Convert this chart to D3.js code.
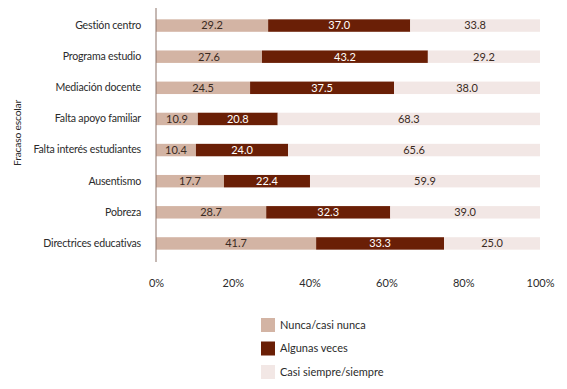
<!DOCTYPE html>
<html lang="es">
<head>
<meta charset="UTF-8">
<title>Fracaso escolar</title>
<script src="https://d3js.org/d3.v7.min.js"></script>
<style>
  body { margin: 0; background: #fff; }
  text { font-family: Lato, "Open Sans", sans-serif; }
</style>
</head>
<body>
<div id="chart"></div>
<script>
// datos
const categories = ["Gestión centro", "Programa estudio", "Mediación docente", "Falta apoyo familiar",
  "Falta interés estudiantes", "Ausentismo", "Pobreza", "Directrices educativas"];
const nunca = [29.2, 27.6, 24.5, 10.9, 10.4, 17.7, 28.7, 41.7];
const algunas = [37.0, 43.2, 37.5, 20.8, 24.0, 22.4, 32.3, 33.3];
const siempre = [33.8, 29.2, 38.0, 68.3, 65.6, 59.9, 39.0, 25.0];
const seriesNames = ["Nunca/casi nunca", "Algunas veces", "Casi siempre/siempre"];
const ticks = [0, 20, 40, 60, 80, 100];

const colors = ["#d3b4a4", "#6a1f06", "#f2e7e5"];
const textColors = ["#3a2a22", "#ffffff", "#3a2a22"];

const W = 567, H = 389;
const svg = d3.select("#chart").append("svg").attr("width", W).attr("height", H);

const x = d3.scaleLinear().domain([0, 100]).range([156, 540]);
const y = d3.scaleBand().domain(categories).range([10, 259]).paddingInner(0.6).paddingOuter(0.3);

const rows = categories.map((c, i) => ({cat: c, vals: [nunca[i], algunas[i], siempre[i]]}));

// barras apiladas
const g = svg.append("g");
rows.forEach(r => {
  let acc = 0;
  r.vals.forEach((v, k) => {
    const x0 = acc;
    acc += v;
    g.append("rect")
      .attr("x", x(x0))
      .attr("y", y(r.cat))
      .attr("width", x(acc) - x(x0))
      .attr("height", y.bandwidth())
      .attr("fill", colors[k]);
    g.append("text")
      .attr("x", (x(x0) + x(acc)) / 2)
      .attr("y", y(r.cat) + y.bandwidth() / 2)
      .attr("dy", "0.35em")
      .attr("text-anchor", "middle")
      .attr("font-size", 11)
      .attr("fill", textColors[k])
      .text(v.toFixed(1));
  });
});

// eje Y
svg.append("g")
  .attr("transform", `translate(${x(0)},0)`)
  .call(d3.axisLeft(y).tickSize(0).tickPadding(15))
  .call(a => a.select(".domain").attr("stroke", "#8c7268").attr("d", "M0,8V262"))
  .call(a => a.selectAll("text").attr("font-size", 10.6).attr("letter-spacing", -0.2).attr("fill", "#2b2b2b"));

// eje X
svg.append("g")
  .attr("transform", "translate(0,283)")
  .call(d3.axisBottom(x).tickValues(ticks).tickFormat(d => d + "%").tickSize(0).tickPadding(0))
  .call(a => a.select(".domain").remove())
  .call(a => a.selectAll("text").attr("font-size", 11).attr("fill", "#2b2b2b").attr("dy", "0.35em"));

// título eje
svg.append("text")
  .attr("transform", "translate(21,133) rotate(-90)")
  .attr("text-anchor", "middle")
  .attr("font-size", 10.3)
  .attr("letter-spacing", -0.2)
  .attr("fill", "#2b2b2b")
  .text("Fracaso escolar");

// leyenda
const leg = svg.append("g").attr("transform", "translate(261,318)");
seriesNames.forEach((n, k) => {
  const row = leg.append("g").attr("transform", `translate(0,${k * 23.5})`);
  row.append("rect").attr("width", 14).attr("height", 14).attr("fill", colors[k]);
  row.append("text").attr("x", 19).attr("y", 7).attr("dy", "0.35em")
    .attr("font-size", 11).attr("fill", "#2b2b2b").text(n);
});
</script>
</body>
</html>
